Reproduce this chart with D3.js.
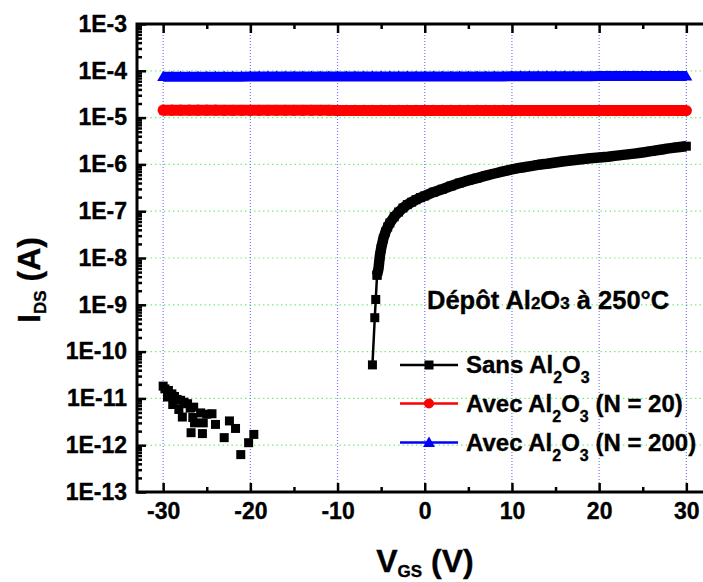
<!DOCTYPE html>
<html><head><meta charset="utf-8">
<script src="https://cdn.jsdelivr.net/npm/d3@7"></script>
<style>
body{margin:0;background:#fff;}
svg{display:block;}
text{font-family:Arial,"Liberation Sans",sans-serif;font-weight:bold;fill:#000;stroke:#000;stroke-width:0.35px;}
</style></head><body>
<svg id="c" width="703" height="582"></svg>
<script>
// ---------------- data ----------------
const xTicks = [-30, -20, -10, 0, 10, 20, 30];
const xMinorTicks = [-25, -15, -5, 5, 15, 25];
const yTickExponents = [-3, -4, -5, -6, -7, -8, -9, -10, -11, -12, -13];

// "Sans Al2O3": noise floor (markers only)
const noiseV = [-30.0, -29.8, -29.4, -29.5, -29.0, -28.7, -28.9, -28.4, -28.0, -28.2, -27.6, -27.2, -27.8, -26.9, -26.5, -26.6, -26.4, -25.4, -25.7, -25.0, -24.4, -26.8, -25.5, -24.0, -23.0, -22.4, -21.7, -19.6, -20.2, -21.1];
const noiseI = [1.83e-11, 1.6e-11, 1.48e-11, 1.07e-11, 1.25e-11, 1.1e-11, 7.4e-12, 9.5e-12, 9.1e-12, 5.8e-12, 8.3e-12, 7.7e-12, 4.0e-12, 6.2e-12, 6.5e-12, 3.9e-12, 3.0e-12, 3.0e-12, 4.9e-12, 4.6e-12, 4.7e-12, 1.85e-12, 1.77e-12, 2.78e-12, 1.45e-12, 3.3e-12, 2.28e-12, 1.7e-12, 1.13e-12, 6.3e-13];
// "Sans Al2O3": steep turn-on (separate points)
const sansSteepV = [-6.0, -5.73, -5.62, -5.47];
const sansSteepI = [5.2e-11, 5.3e-10, 1.3e-9, 4.3e-9];
// "Sans Al2O3": dense on-state curve
const sansDenseV = [-5.47, -5.3, -5.15, -5.0, -4.75, -4.5, -4.25, -4.0, -3.5, -3.0, -2.5, -2.0, -1.5, -1.0, -0.5, 0, 1, 2, 3, 4, 5, 6, 7, 8, 9, 10, 11, 12, 13, 14, 15, 16, 17, 18, 19, 20, 21, 22, 23, 24, 25, 26, 27, 28, 29, 30];
const sansDenseI = [4.3e-9, 6.0e-9, 1.1e-8, 1.6e-8, 2.6e-8, 3.6e-8, 4.6e-8, 5.6e-8, 7.6e-8, 9.6e-8, 1.17e-7, 1.38e-7, 1.56e-7, 1.76e-7, 1.95e-7, 2.12e-7, 2.55e-7, 2.95e-7, 3.45e-7, 4.0e-7, 4.55e-7, 5.1e-7, 5.75e-7, 6.4e-7, 7.1e-7, 7.8e-7, 8.5e-7, 9.1e-7, 9.8e-7, 1.03e-6, 1.1e-6, 1.17e-6, 1.23e-6, 1.29e-6, 1.35e-6, 1.4e-6, 1.46e-6, 1.54e-6, 1.62e-6, 1.7e-6, 1.8e-6, 1.92e-6, 2.05e-6, 2.2e-6, 2.33e-6, 2.45e-6];

// "Avec Al2O3" sweeps
const avecV = [-30, -29, -28, -27, -26, -25, -24, -23, -22, -21, -20, -19, -18, -17, -16, -15, -14, -13, -12, -11, -10, -9, -8, -7, -6, -5, -4, -3, -2, -1, 0, 1, 2, 3, 4, 5, 6, 7, 8, 9, 10, 11, 12, 13, 14, 15, 16, 17, 18, 19, 20, 21, 22, 23, 24, 25, 26, 27, 28, 29, 30];
const avec20I = [1.44e-5, 1.44e-5, 1.44e-5, 1.44e-5, 1.44e-5, 1.44e-5, 1.44e-5, 1.43e-5, 1.43e-5, 1.43e-5, 1.43e-5, 1.43e-5, 1.43e-5, 1.43e-5, 1.43e-5, 1.43e-5, 1.43e-5, 1.43e-5, 1.43e-5, 1.43e-5, 1.42e-5, 1.42e-5, 1.42e-5, 1.42e-5, 1.42e-5, 1.42e-5, 1.42e-5, 1.42e-5, 1.42e-5, 1.42e-5, 1.42e-5, 1.42e-5, 1.42e-5, 1.42e-5, 1.42e-5, 1.42e-5, 1.42e-5, 1.42e-5, 1.42e-5, 1.42e-5, 1.41e-5, 1.41e-5, 1.41e-5, 1.41e-5, 1.41e-5, 1.41e-5, 1.41e-5, 1.41e-5, 1.41e-5, 1.41e-5, 1.41e-5, 1.41e-5, 1.41e-5, 1.41e-5, 1.41e-5, 1.41e-5, 1.41e-5, 1.41e-5, 1.41e-5, 1.41e-5, 1.41e-5];
const avec200I = [7.5e-5, 7.5e-5, 7.5e-5, 7.5e-5, 7.5e-5, 7.5e-5, 7.5e-5, 7.5e-5, 7.5e-5, 7.5e-5, 7.55e-5, 7.55e-5, 7.55e-5, 7.55e-5, 7.55e-5, 7.55e-5, 7.55e-5, 7.55e-5, 7.55e-5, 7.55e-5, 7.6e-5, 7.6e-5, 7.6e-5, 7.6e-5, 7.6e-5, 7.6e-5, 7.6e-5, 7.6e-5, 7.6e-5, 7.6e-5, 7.6e-5, 7.6e-5, 7.6e-5, 7.6e-5, 7.6e-5, 7.6e-5, 7.6e-5, 7.6e-5, 7.6e-5, 7.6e-5, 7.65e-5, 7.65e-5, 7.65e-5, 7.65e-5, 7.65e-5, 7.65e-5, 7.65e-5, 7.65e-5, 7.65e-5, 7.65e-5, 7.7e-5, 7.7e-5, 7.7e-5, 7.7e-5, 7.7e-5, 7.7e-5, 7.7e-5, 7.7e-5, 7.7e-5, 7.7e-5, 7.7e-5];

const legendLabels = [
  {pre: "Sans Al", post: ""},
  {pre: "Avec Al", post: " (N = 20)"},
  {pre: "Avec Al", post: " (N = 200)"}
];
const seriesColors = ["#000000", "#ff0000", "#0000ff"];

// ---------------- drawing ----------------
const svg = d3.select("#c");
svg.append("rect").attr("width", 703).attr("height", 582).attr("fill", "#fff");

const x = d3.scaleLinear().domain([-33, 33]).range([137, 712.5]);
const y = d3.scaleLog().domain([1e-13, 1e-3]).range([492, 24]);
const X0 = x.range()[0], X1 = x.range()[1], Y0 = y.range()[0], Y1 = y.range()[1];

const decades = yTickExponents.map(e => Math.pow(10, e));
const yMinor = [];
yTickExponents.slice(1).forEach(e => { for (let k = 2; k <= 9; k++) yMinor.push(k * Math.pow(10, e)); });

// grid lines
const grid = svg.append("g");
grid.selectAll("line.h").data(decades.filter(d => d > 1.5e-13 && d < 0.9e-3)).join("line")
  .attr("x1", X0).attr("x2", X1).attr("y1", d => y(d)).attr("y2", d => y(d))
  .attr("stroke", "#77ee77").attr("stroke-width", 1.2).attr("stroke-dasharray", "1.5,3");
grid.selectAll("line.v").data(xTicks).join("line")
  .attr("y1", Y0).attr("y2", Y1).attr("x1", d => x(d)).attr("x2", d => x(d))
  .attr("stroke", "#7777ff").attr("stroke-width", 1.2).attr("stroke-dasharray", "1,2");

// series
const plot = svg.append("g");
const line = d3.line().x(d => x(d[0])).y(d => y(d[1]));
const zip = (a, b) => a.map((v, i) => [v, b[i]]);

// Avec N=200 (blue, triangles)
const d200 = zip(avecV, avec200I);
plot.append("path").datum(d200).attr("d", line).attr("fill", "none")
  .attr("stroke", seriesColors[2]).attr("stroke-width", 10);
const tri = d3.symbol().type(d3.symbolTriangle).size(62);
plot.selectAll("path.t").data(d200).join("path").attr("class", "t")
  .attr("d", tri).attr("transform", d => `translate(${x(d[0])},${y(d[1]) + 1})`).attr("fill", seriesColors[2]);

// Avec N=20 (red, circles)
const d20 = zip(avecV, avec20I);
plot.append("path").datum(d20).attr("d", line).attr("fill", "none")
  .attr("stroke", seriesColors[1]).attr("stroke-width", 11);
plot.selectAll("circle.c").data(d20).join("circle").attr("class", "c")
  .attr("cx", d => x(d[0])).attr("cy", d => y(d[1])).attr("r", 5.6).attr("fill", seriesColors[1]);

// Sans (black, squares)
const sq = 9;
const dDense = zip(sansDenseV, sansDenseI);
const dSteep = zip(sansSteepV, sansSteepI);
plot.append("path").datum(dSteep).attr("d", line).attr("fill", "none")
  .attr("stroke", "#000").attr("stroke-width", 2.5);
plot.append("path").datum(dDense).attr("d", line).attr("fill", "none")
  .attr("stroke", "#000").attr("stroke-width", 10.5).attr("stroke-linejoin", "round");
const squares = dSteep.concat(dDense).concat(zip(noiseV, noiseI));
plot.selectAll("rect.s").data(squares).join("rect").attr("class", "s")
  .attr("x", d => x(d[0]) - sq / 2).attr("y", d => y(d[1]) - sq / 2)
  .attr("width", sq).attr("height", sq).attr("fill", "#000");

// axes
const axes = svg.append("g");
function styleAxis(g) {
  g.select(".domain").remove();
  g.selectAll("line").attr("stroke", "#000").attr("stroke-width", 2.5);
  g.selectAll("text").style("font-size", "23px").style("font-weight", "bold").attr("fill", "#000");
}
axes.append("g").attr("transform", `translate(${X0},0)`)
  .call(d3.axisLeft(y).tickValues(decades).tickFormat(d => "1E" + Math.round(Math.log10(d))).tickSize(-9).tickPadding(10))
  .call(styleAxis);
axes.append("g").attr("transform", `translate(${X0},0)`)
  .call(d3.axisLeft(y).tickValues(yMinor).tickFormat("").tickSize(-5)).call(styleAxis);
axes.append("g").attr("transform", `translate(${X1},0)`)
  .call(d3.axisRight(y).tickValues(decades).tickFormat("").tickSize(-9)).call(styleAxis);
axes.append("g").attr("transform", `translate(${X1},0)`)
  .call(d3.axisRight(y).tickValues(yMinor).tickFormat("").tickSize(-5)).call(styleAxis);
axes.append("g").attr("transform", `translate(0,${Y0})`)
  .call(d3.axisBottom(x).tickValues(xTicks).tickFormat(d3.format("d")).tickSize(-9).tickPadding(11))
  .call(styleAxis);
axes.append("g").attr("transform", `translate(0,${Y0})`)
  .call(d3.axisBottom(x).tickValues(xMinorTicks).tickFormat("").tickSize(-5)).call(styleAxis);
axes.append("g").attr("transform", `translate(0,${Y1})`)
  .call(d3.axisTop(x).tickValues(xTicks).tickFormat("").tickSize(-9)).call(styleAxis);
axes.append("g").attr("transform", `translate(0,${Y1})`)
  .call(d3.axisTop(x).tickValues(xMinorTicks).tickFormat("").tickSize(-5)).call(styleAxis);
// frame
axes.append("rect").attr("x", X0).attr("y", Y1).attr("width", X1 - X0).attr("height", Y0 - Y1)
  .attr("fill", "none").attr("stroke", "#000").attr("stroke-width", 3);
// hyphen-minus like reference
axes.selectAll("text").text(function () { return d3.select(this).text().replace("\u2212", "-"); });

// axis titles
const xt = svg.append("text").attr("x", 425).attr("y", 572).attr("text-anchor", "middle").style("font-size", "32px");
xt.append("tspan").text("V");
xt.append("tspan").attr("dy", 5).style("font-size", "17px").text("GS");
xt.append("tspan").attr("dy", -5).text(" (V)");

const yt = svg.append("text").attr("transform", "translate(39.5,280) rotate(-90)").attr("text-anchor", "middle").style("font-size", "32px");
yt.append("tspan").text("I");
yt.append("tspan").attr("dy", 6).style("font-size", "17px").text("DS");
yt.append("tspan").attr("dy", -6).text(" (A)");

// inset title
const tt = svg.append("text").attr("x", 427).attr("y", 309).style("font-size", "25.5px");
tt.append("tspan").text("Dépôt Al");
tt.append("tspan").style("font-size", "17px").text("2");
tt.append("tspan").text("O");
tt.append("tspan").style("font-size", "17px").text("3");
tt.append("tspan").text(" à 250°C");

// legend
const legY = [365, 403.5, 442.5];
const lg = svg.append("g");
legendLabels.forEach((lab, i) => {
  const yy = legY[i];
  lg.append("line").attr("x1", 400).attr("x2", 458).attr("y1", yy).attr("y2", yy)
    .attr("stroke", seriesColors[i]).attr("stroke-width", 2.5);
  if (i === 0) lg.append("rect").attr("x", 429 - 4.5).attr("y", yy - 4.5).attr("width", 9).attr("height", 9).attr("fill", "#000");
  if (i === 1) lg.append("circle").attr("cx", 429).attr("cy", yy).attr("r", 5).attr("fill", seriesColors[1]);
  if (i === 2) lg.append("path").attr("d", d3.symbol().type(d3.symbolTriangle).size(62)).attr("transform", `translate(429,${yy + 1})`).attr("fill", seriesColors[2]);
  const t = lg.append("text").attr("x", 466).attr("y", yy + 8).style("font-size", "24px");
  t.append("tspan").text(lab.pre);
  t.append("tspan").attr("dy", 10).style("font-size", "16px").text("2");
  t.append("tspan").attr("dy", -10).text("O");
  t.append("tspan").attr("dy", 10).style("font-size", "16px").text("3");
  if (lab.post) t.append("tspan").attr("dy", -10).text(lab.post);
});
</script>
</body></html>
